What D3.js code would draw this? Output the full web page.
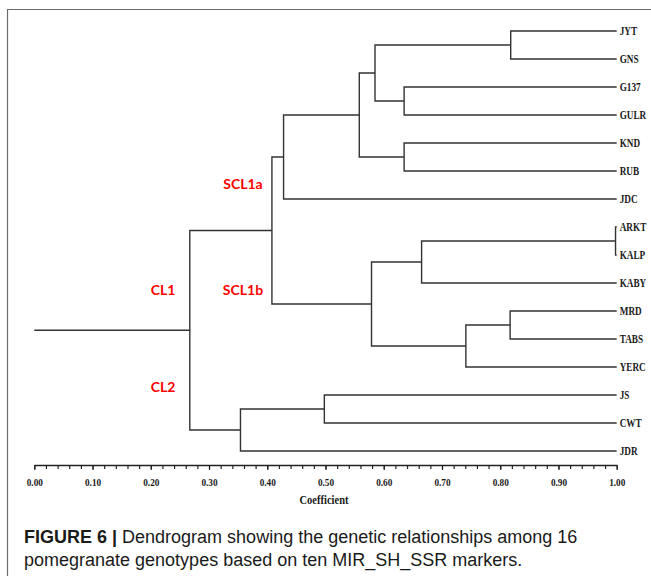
<!DOCTYPE html>
<html>
<head>
<meta charset="utf-8">
<script src="https://cdn.jsdelivr.net/npm/d3@7"></script>
<style>
  body { margin: 0; background: #fff; }
  svg { display: block; }
</style>
</head>
<body>
<script>
// leaves, top to bottom
var leaves = ["JYT", "GNS", "G137", "GULR", "KND", "RUB", "JDC",
              "ARKT", "KALP", "KABY", "MRD", "TABS", "YERC", "JS", "CWT", "JDR"];

// merges: [node, left child, right child, coefficient]
var merges = [
  ["n1", "JYT", "GNS", 0.818],
  ["n2", "G137", "GULR", 0.635],
  ["n3", "n1", "n2", 0.585],
  ["n4", "KND", "RUB", 0.635],
  ["n5", "n3", "n4", 0.558],
  ["scl1a", "n5", "JDC", 0.428],
  ["n6", "ARKT", "KALP", 0.998],
  ["n7", "n6", "KABY", 0.665],
  ["n8", "MRD", "TABS", 0.817],
  ["n9", "n8", "YERC", 0.741],
  ["scl1b", "n7", "n9", 0.579],
  ["cl1", "scl1a", "scl1b", 0.408],
  ["n10", "JS", "CWT", 0.498],
  ["cl2", "n10", "JDR", 0.354],
  ["root", "cl1", "cl2", 0.267]
];

// red cluster labels: [text, node]
var clusterLabels = [
  ["SCL1a", "scl1a"],
  ["SCL1b", "scl1b"],
  ["CL1", "cl1"],
  ["CL2", "cl2"]
];

var ticksMajor = d3.range(0, 1.0001, 0.1);
var ticksMinor = d3.range(0, 1.0001, 0.02);

var width = 651, height = 576;

var svg = d3.select("body").append("svg")
    .attr("width", width)
    .attr("height", height);

// figure frame (top and left edges only)
svg.append("path")
    .attr("d", "M7.5,576V9.5H651")
    .attr("fill", "none")
    .attr("stroke", "#6b6b6b")
    .attr("stroke-width", 1.2);

var x = d3.scaleLinear().domain([0, 1]).range([34.3, 616.7]);
var y = d3.scalePoint().domain(leaves).range([31, 451]);

// node positions
var pos = {};
leaves.forEach(function(l) { pos[l] = {h: 1, y: y(l)}; });
merges.forEach(function(m) {
  pos[m[0]] = {h: m[3], y: (pos[m[1]].y + pos[m[2]].y) / 2};
});

var g = svg.append("g")
    .attr("fill", "none")
    .attr("stroke", "#333")
    .attr("stroke-width", 1.4);

g.selectAll("path.link")
    .data(merges)
  .enter().append("path")
    .attr("class", "link")
    .attr("d", function(m) {
      var a = pos[m[1]], b = pos[m[2]], hx = x(m[3]);
      return "M" + x(a.h) + "," + a.y + "H" + hx + "V" + b.y + "H" + x(b.h);
    });

// root stem
g.append("path")
    .attr("d", "M" + x(0) + "," + pos.root.y + "H" + x(pos.root.h));

// leaf labels
svg.selectAll("text.leaf")
    .data(leaves)
  .enter().append("text")
    .attr("class", "leaf")
    .attr("transform", function(d) { return "translate(" + (x(1) + 3) + "," + y(d) + ") scale(0.8,1)"; })
    .attr("dy", "0.35em")
    .style("font-family", "'Liberation Serif', 'Times New Roman', serif")
    .style("font-weight", "bold")
    .style("font-size", "11.5px")
    .style("fill", "#1a1a1a")
    .text(function(d) { return d; });

// red labels
var redPos = {scl1a: [243, 184], scl1b: [243, 290], cl1: [163, 290], cl2: [163, 387]};
svg.selectAll("text.cl")
    .data(clusterLabels)
  .enter().append("text")
    .attr("class", "cl")
    .attr("x", function(d) { return redPos[d[1]][0]; })
    .attr("y", function(d) { return redPos[d[1]][1]; })
    .attr("dy", "0.35em")
    .attr("text-anchor", "middle")
    .style("font-family", "Lato, 'Liberation Sans', sans-serif")
    .style("font-weight", "bold")
    .style("font-size", "14px")
    .style("fill", "#ff0000")
    .text(function(d) { return d[0]; });

// axis
var axisY = 465;
svg.append("g")
    .attr("transform", "translate(0," + axisY + ")")
    .call(d3.axisBottom(x).tickValues(ticksMinor).tickSize(4).tickFormat(""))
    .call(function(a) { a.select(".domain").remove(); })
    .selectAll("line").attr("stroke", "#222").attr("stroke-width", 1.2);

var ax = svg.append("g")
    .attr("transform", "translate(0," + axisY + ")")
    .call(d3.axisBottom(x).tickValues(ticksMajor).tickSize(5).tickSizeOuter(0).tickFormat(d3.format(".2f")));
ax.select(".domain").attr("stroke", "#222").attr("stroke-width", 1.3);
ax.selectAll("line").attr("stroke", "#222").attr("stroke-width", 1.2);
ax.selectAll("text")
    .attr("y", 0)
    .attr("dy", 0)
    .attr("transform", "translate(0,21) scale(0.84,1)")
    .style("font-family", "'Liberation Serif', 'Times New Roman', serif")
    .style("font-weight", "bold")
    .style("font-size", "11px")
    .style("fill", "#1a1a1a");

svg.append("text")
    .attr("transform", "translate(324,504) scale(0.84,1)")
    .attr("text-anchor", "middle")
    .style("font-family", "'Liberation Serif', 'Times New Roman', serif")
    .style("font-weight", "bold")
    .style("font-size", "12.5px")
    .style("fill", "#1a1a1a")
    .text("Coefficient");

// caption
var cap = svg.append("g")
    .style("font-family", "'Liberation Sans', Arial, sans-serif")
    .style("font-size", "18px")
    .style("fill", "#1a1a1a");
var l1 = cap.append("text").attr("x", 24).attr("y", 543);
l1.append("tspan").style("font-weight", "bold").text("FIGURE 6 | ");
l1.append("tspan").text("Dendrogram showing the genetic relationships among 16");
cap.append("text").attr("x", 24).attr("y", 566)
    .text("pomegranate genotypes based on ten MIR_SH_SSR markers.");
</script>
</body>
</html>
